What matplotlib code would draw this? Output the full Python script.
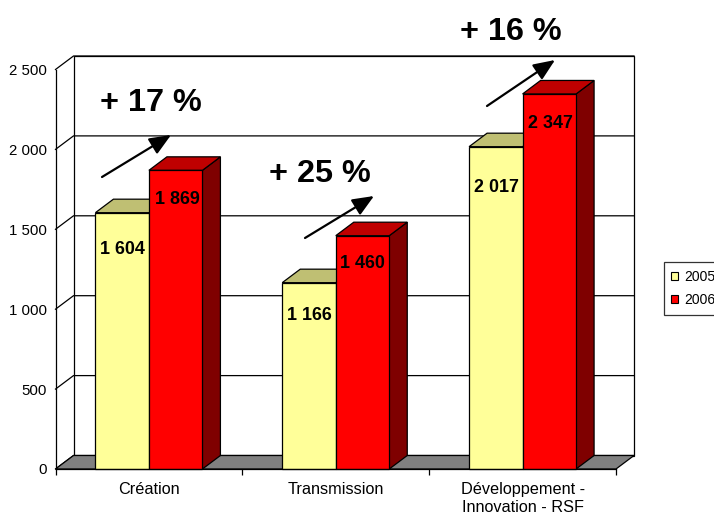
import matplotlib
matplotlib.use("Agg")
import matplotlib.pyplot as plt
from matplotlib.patches import Polygon, Patch

plt.rcParams['font.family'] = ['Liberation Sans', 'DejaVu Sans']

categories = ['Création', 'Transmission', 'Développement -\nInnovation - RSF']
series_names = ['2005', '2006']
values_2005 = [1604, 1166, 2017]
values_2006 = [1869, 1460, 2347]
y_ticks = [0, 500, 1000, 1500, 2000, 2500]
y_tick_labels = ['0', '500', '1 000', '1 500', '2 000', '2 500']
label_2005 = ['1 604', '1 166', '2 017']
label_2006 = ['1 869', '1 460', '2 347']
growth_labels = ['+ 17 %', '+ 25 %', '+ 16 %']

W, H = 714, 512
X0, X1, Y0, Y1 = 55.5, 616.0, 469.0, 69.5
fig = plt.figure(figsize=(W / 100, H / 100), dpi=100)
ax = fig.add_axes([X0 / W, 1 - Y0 / H, (X1 - X0) / W, (Y0 - Y1) / H])
ax.set_xlim(0, 3)
ax.set_ylim(0, 2500)
ax.patch.set_visible(False)

DX = 18 * 3 / (X1 - X0)
DY = 13.5 * 2500 / (Y0 - Y1)
BW = 53.5 * 3 / (X1 - X0)
LW = 0.9


def poly(pts, fc, z):
    ax.add_patch(Polygon(pts, closed=True, fc=fc, ec='black', lw=LW, zorder=z,
                         clip_on=False, joinstyle='miter'))


# back wall and floor
poly([(DX, DY), (3 + DX, DY), (3 + DX, 2500 + DY), (DX, 2500 + DY)], 'white', 1)
poly([(0, 0), (3, 0), (3 + DX, DY), (DX, DY)], '#808080', 2)
for v in y_ticks:
    ax.plot([0, DX, 3 + DX], [v, v + DY, v + DY], color='black', lw=LW, zorder=1.5,
            clip_on=False, solid_joinstyle='miter')

# bars
z = 3
for i in range(len(categories)):
    for off, val, front, top, side in [
        (-BW, values_2005[i], '#FFFF99', '#BFBF73', '#7F7F4C'),
        (0, values_2006[i], '#FF0000', '#BF0000', '#7F0000'),
    ]:
        left = i + 0.5 + off
        right = left + BW
        poly([(right, 0), (right + DX, DY), (right + DX, val + DY), (right, val)], side, z)
        poly([(left, val), (right, val), (right + DX, val + DY), (left + DX, val + DY)], top, z)
        ax.bar(left, val, BW, align='edge', color=front, edgecolor='black', linewidth=LW,
               zorder=z + 0.5, clip_on=False)
        z += 1

# axes
for s in ['top', 'right']:
    ax.spines[s].set_visible(False)
for s in ['left', 'bottom']:
    ax.spines[s].set_linewidth(LW)
    ax.spines[s].set_zorder(30)
ax.set_yticks(y_ticks, y_tick_labels)
ax.tick_params(axis='y', length=0, pad=6, labelsize=10.8, labelcolor='black')
ax.set_xticks([0, 1, 2, 3], ['', '', '', ''])
ax.tick_params(axis='x', which='major', length=4.3, width=LW)
ax.set_xticks([0.5, 1.5, 2.5], categories, minor=True)
ax.tick_params(axis='x', which='minor', length=0, pad=9.5, labelsize=11.7)
for t in ax.get_xticklabels(minor=True):
    t.set_linespacing(1.2)
    t.set_verticalalignment('top')


def px(x, y):
    return x, H - y


# value labels
pos_2005 = [(122.5, 250), (309.5, 315), (496, 187)]
pos_2006 = [(177, 200), (362, 264), (550, 123)]
for labs, pos in [(label_2005, pos_2005), (label_2006, pos_2006)]:
    for s, (x, y) in zip(labs, pos):
        fig.text(x / W, 1 - y / H, s, ha='center', va='center', fontsize=12.9,
                 fontweight='bold', color='black', zorder=40)

# growth annotations
growth_pos = [(150.5, 103), (319.5, 174), (510.5, 32)]
arrows = [((102, 177), (171, 135)), ((305, 238), (374, 196)), ((487, 106), (555, 60))]
for s, (x, y) in zip(growth_labels, growth_pos):
    fig.text(x / W, 1 - y / H, s, ha='center', va='center', fontsize=23.3,
             fontweight='bold', color='black', zorder=40)
for a, b in arrows:
    ax.annotate('', xy=px(*b), xytext=px(*a), xycoords='figure pixels',
                textcoords='figure pixels', zorder=40,
                arrowprops=dict(arrowstyle='-|>,head_length=1.0,head_width=0.42', color='black',
                                lw=1.6, shrinkA=0, shrinkB=0, mutation_scale=13))

# legend
handles = [Patch(fc='#FFFF99', ec='black', lw=0.8), Patch(fc='#FF0000', ec='black', lw=0.8)]
leg = fig.legend(handles, series_names, loc='center left', bbox_to_anchor=(663.5 / W, 1 - 288.5 / H),
                 fontsize=10, frameon=True, fancybox=False, edgecolor='#333333', framealpha=1,
                 borderpad=0.55, labelspacing=0.68, handlelength=0.5, handleheight=0.5,
                 handletextpad=0.45, borderaxespad=0)
leg.get_frame().set_linewidth(0.9)

fig.savefig('out.png', dpi=100)
